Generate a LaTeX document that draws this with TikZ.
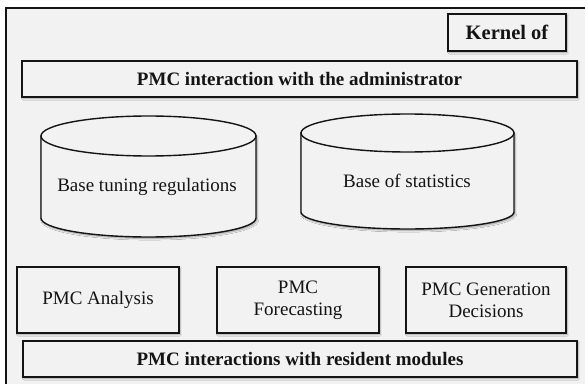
\documentclass[tikz,border=0pt]{standalone}
\usepackage{fontspec}
\setmainfont{Liberation Serif}
\usetikzlibrary{shadows.blur}
\definecolor{panel}{HTML}{F2F2F2}
\definecolor{ink}{HTML}{141414}
\tikzset{
  shd/.style={blur shadow={shadow xshift=1.2pt, shadow yshift=-1.5pt, shadow opacity=35, shadow blur steps=6, shadow blur radius=1.6pt}},
  titlebox/.style={draw=ink, line width=1.9pt, fill=panel, shd, text=ink, inner sep=0pt,
     font=\bfseries\fontsize{19}{22}\selectfont},
  modbox/.style={draw=ink, line width=1.9pt, fill=panel, shd, text=ink, inner sep=0pt, align=center,
     font=\fontsize{19}{22}\selectfont},
  cyl/.style={draw=ink, line width=1.4pt, fill=panel},
  cyltext/.style={text=ink, font=\fontsize{19}{22}\selectfont, inner sep=0pt}
}
\begin{document}
\begin{tikzpicture}[x=1pt,y=1pt]
\useasboundingbox (0,0) rectangle (585,383);
\clip (0,0) rectangle (585,383);
\fill[white] (0,0) rectangle (585,383);
% outer frame
\draw[ink, line width=2pt, fill=panel] (6,375) rectangle (600,-20);

% top boxes
\node[titlebox, minimum width=118pt, minimum height=37pt, font=\bfseries\fontsize{20.5}{22}\selectfont] (kernel) at (507,350.5) {Kernel of};
\node[titlebox, minimum width=555pt, minimum height=36pt] (admin) at (299.5,304) {PMC interaction with the administrator};

% cylinder 1
\path[cyl, shd] (41,247) -- (41,165) arc[start angle=180, end angle=360, x radius=107.5pt, y radius=19pt] -- (256,247) -- cycle;
\draw[cyl] (148.5,247) ellipse[x radius=107.5pt, y radius=20pt];
\node[cyltext] (base1) at (147,196) {Base tuning regulations};

% cylinder 2
\path[cyl, shd] (301,250) -- (301,171) arc[start angle=180, end angle=360, x radius=106.5pt, y radius=17pt] -- (514,250) -- cycle;
\draw[cyl] (407.5,250) ellipse[x radius=106.5pt, y radius=19pt];
\node[cyltext] (base2) at (407,202) {Base of statistics};

% module boxes
\node[modbox, minimum width=162pt, minimum height=66pt] (analysis) at (98,83) {PMC Analysis};
\node[modbox, minimum width=162pt, minimum height=66pt] (forecast) at (298,83) {PMC\\Forecasting};
\node[modbox, minimum width=160pt, minimum height=66pt] (gen) at (486,83) {PMC Generation\\Decisions};

% bottom box
\node[titlebox, minimum width=554pt, minimum height=36pt] (resident) at (300,24) {PMC interactions with resident modules};
\end{tikzpicture}
\end{document}
